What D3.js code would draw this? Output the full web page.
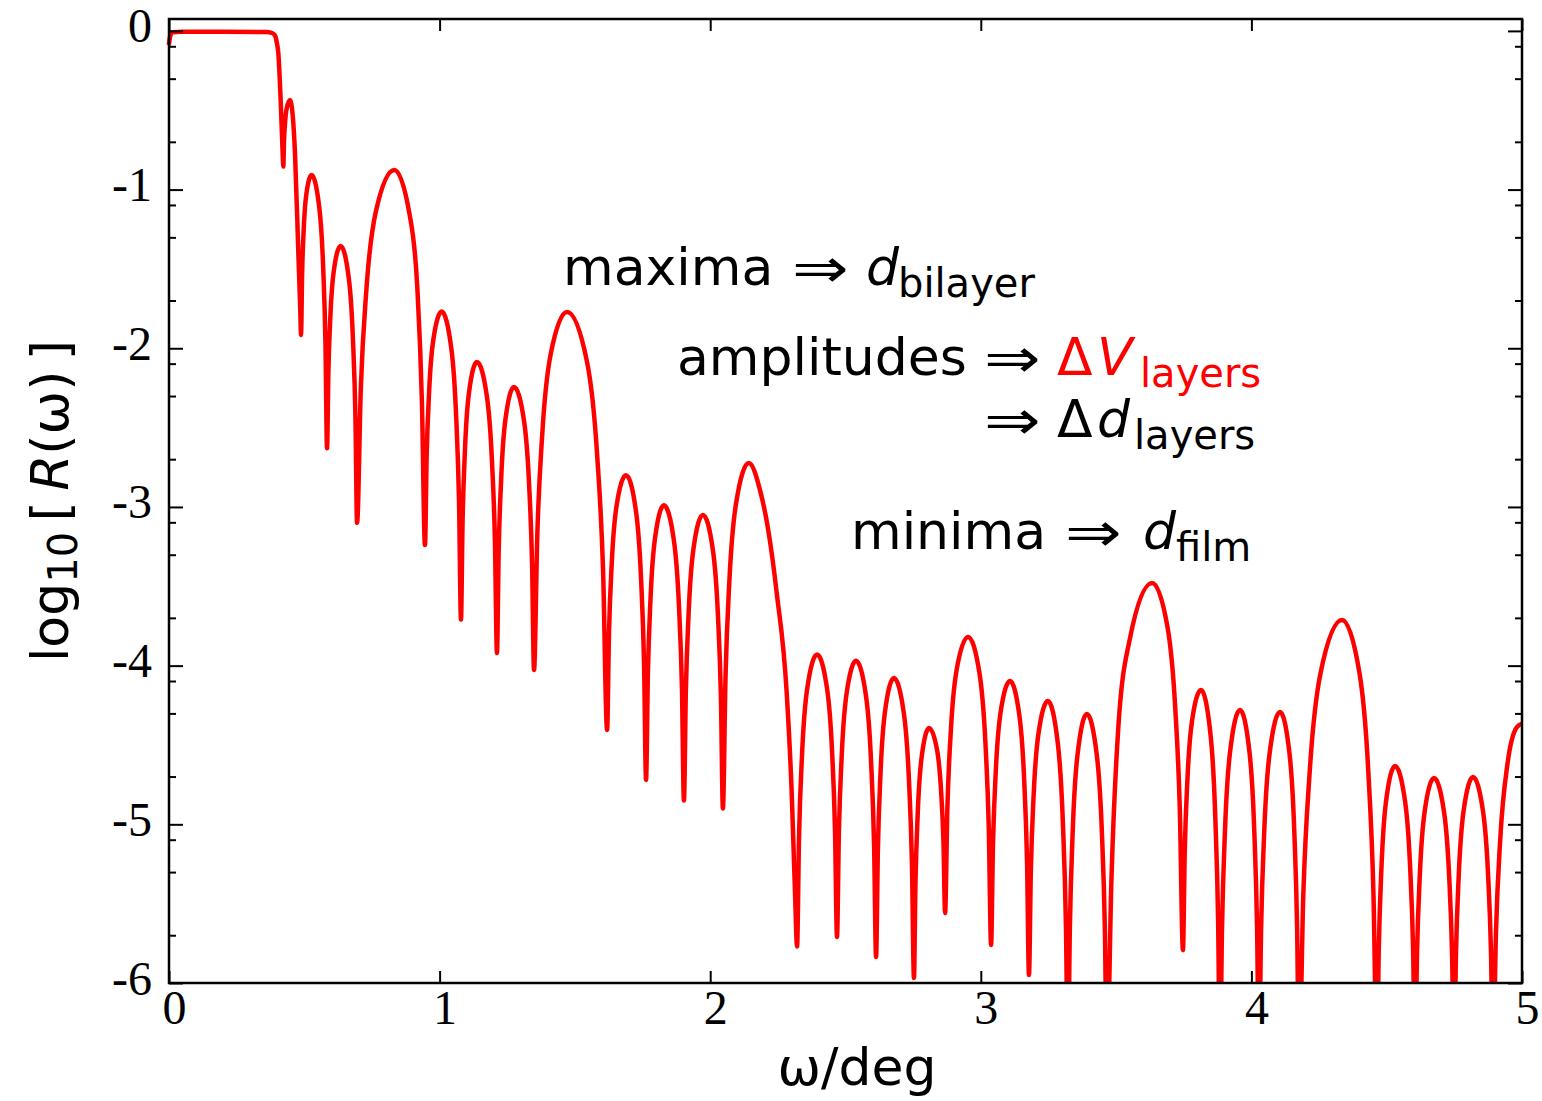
<!DOCTYPE html>
<html><head><meta charset="utf-8">
<script src="https://cdn.jsdelivr.net/npm/d3@7"></script>
<style>body{margin:0;background:#fff}</style>
</head><body>
<svg id="c" width="1542" height="1101"></svg>
<script>
// ---- data ----
const omega = [
0,0.005,0.012,0.05,0.2,0.36,0.38,0.392,0.398,0.404,0.413,0.420,0.4225,
0.425,0.4286,0.4348,0.447,0.458,0.4656,0.478,0.485,0.488,
0.4919,0.4978,0.5075,0.527,0.5555,0.5698,0.5783,0.584,
0.5891,0.5966,0.6093,0.6345,0.6648,0.6799,0.6890,0.695,
0.7088,0.7294,0.7639,0.8327,0.8894,0.9177,0.9347,0.946,
0.9522,0.9614,0.9769,1.0077,1.0434,1.0612,1.0719,1.079,
1.0849,1.0938,1.1085,1.138,1.175,1.1935,1.2046,1.212,
1.2183,1.2278,1.2435,1.275,1.312,1.3305,1.3416,1.349,
1.3612,1.3795,1.410,1.471,1.545,1.582,1.6042,1.619,
1.626,1.6365,1.654,1.689,1.726,1.7445,1.7556,1.763,
1.7696,1.7795,1.796,1.829,1.866,1.8845,1.8956,1.903,
1.910,1.9205,1.938,1.973,2.010,2.0285,2.0396,2.047,
2.0566,2.071,2.095,2.143,2.185,2.215,2.2457,2.2827,2.3012,2.3134,2.321,
2.3284,2.3395,2.358,2.395,2.4318,2.4502,2.4612,2.4686,
2.4756,2.4862,2.5038,2.539,2.576,2.5945,2.6056,2.613,
2.6196,2.6295,2.646,2.679,2.716,2.7345,2.7456,2.753,
2.7586,2.767,2.781,2.809,2.8385,2.8532,2.8621,2.868,
2.8765,2.8893,2.9105,2.953,2.9955,3.0168,3.0295,3.038,
3.045,3.0555,3.073,3.108,3.143,3.1605,3.171,3.178,
3.185,3.1955,3.213,3.248,3.285,3.3035,3.3146,3.322,
3.329,3.3395,3.357,3.392,3.429,3.4475,3.4586,3.466,
3.4827,3.5078,3.5495,3.633,3.690,3.7185,3.7356,3.747,
3.7537,3.7638,3.7805,3.814,3.849,3.8665,3.877,3.884,
3.8914,3.9025,3.921,3.958,3.993,4.0105,4.021,4.028,
4.0358,4.0475,4.067,4.106,4.141,4.1585,4.169,4.176,
4.1919,4.2158,4.2555,4.335,4.3995,4.4318,4.4511,4.464,
4.4707,4.4808,4.4975,4.531,4.568,4.5865,4.5976,4.605,
4.612,4.6225,4.640,4.675,4.712,4.7305,4.7416,4.749,
4.756,4.7665,4.784,4.819,4.856,4.8745,4.8856,4.893,
4.9037,4.9198,4.9465,4.980,5.0
];
const logR = [
-0.08,-0.03,-0.008,-0.006,-0.006,-0.007,-0.012,-0.03,-0.07,-0.14,-0.45,-0.77,-0.855,
-0.695,-0.586,-0.49,-0.435,-0.55,-0.77,-1.40,-1.75,-1.916,
-1.533,-1.251,-1.029,-0.908,-1.115,-1.493,-1.976,-2.63,
-2.146,-1.789,-1.508,-1.355,-1.564,-1.948,-2.437,-3.10,
-2.255,-1.632,-1.143,-0.876,-1.160,-1.62,-2.342,-3.24,
-2.681,-2.269,-1.946,-1.769,-2.002,-2.429,-2.972,-3.71,
-3.093,-2.638,-2.281,-2.086,-2.306,-2.710,-3.223,-3.92,
-3.283,-2.814,-2.445,-2.244,-2.458,-2.850,-3.349,-4.027,
-3.170,-2.538,-2.042,-1.771,-2.087,-2.667,-3.404,-4.405,
-3.795,-3.346,-2.993,-2.80,-3.030,-3.453,-3.990,-4.72,
-4.063,-3.578,-3.198,-2.99,-3.213,-3.622,-4.143,-4.85,
-4.166,-3.662,-3.266,-3.05,-3.272,-3.679,-4.197,-4.90,
-4.073,-3.463,-2.984,-2.723,-2.90,-3.15,-3.54,-4.17,-4.80,-5.43,-5.77,
-5.071,-4.556,-4.151,-3.93,-4.144,-4.535,-5.034,-5.71,
-5.049,-4.562,-4.179,-3.97,-4.194,-4.604,-5.127,-5.836,
-5.168,-4.676,-4.289,-4.078,-4.305,-4.721,-5.250,-5.968,
-5.369,-4.928,-4.582,-4.393,-4.533,-4.789,-5.116,-5.559,
-4.898,-4.411,-4.028,-3.819,-4.052,-4.479,-5.022,-5.76,
-5.128,-4.662,-4.297,-4.097,-4.319,-4.727,-5.245,-5.949,
-5.293,-4.810,-4.430,-4.223,-4.496,-4.997,-5.635,-6.5,
-5.666,-5.051,-4.568,-4.305,-4.568,-5.051,-5.666,-6.5,
-5.352,-4.40,-3.842,-3.479,-3.757,-4.265,-4.913,-5.792,
-5.169,-4.710,-4.350,-4.153,-4.435,-4.951,-5.608,-6.5,
-5.656,-5.034,-4.546,-4.279,-4.546,-5.034,-5.656,-6.5,
-5.661,-5.043,-4.557,-4.292,-4.557,-5.043,-5.661,-6.5,
-5.441,-4.660,-4.047,-3.712,-4.047,-4.660,-5.441,-6.5,
-5.790,-5.267,-4.856,-4.632,-4.856,-5.267,-5.790,-6.5,
-5.819,-5.317,-4.923,-4.708,-4.923,-5.317,-5.819,-6.5,
-5.817,-5.313,-4.918,-4.702,-4.918,-5.313,-5.817,-6.5,
-5.687,-5.088,-4.617,-4.39,-4.365
];
const xTicks = [0, 1, 2, 3, 4, 5];
const xTickLabels = ["0", "1", "2", "3", "4", "5"];
const yTicks = [0, -1, -2, -3, -4, -5, -6];
const yTickLabels = ["0", "-1", "-2", "-3", "-4", "-5", "-6"];
const minorMantissas = [2, 5, 8];
const xDomain = [0, 5];
const yDomain = [-6, 0.075];

// ---- layout ----
const L = 169, R = 1522, T = 19, B = 983;
const svg = d3.select("#c");
const x = d3.scaleLinear().domain(xDomain).range([L, R]);
const y = d3.scaleLinear().domain(yDomain).range([B, T]);

svg.append("defs").append("clipPath").attr("id", "clip")
  .append("rect").attr("x", L - 4).attr("y", T).attr("width", R - L + 4).attr("height", B - T);

const pts = omega.map((w, i) => [w, logR[i]]);
const line = d3.line().x(d => x(d[0])).y(d => y(d[1])).curve(d3.curveMonotoneX);
svg.append("path").datum(pts).attr("clip-path", "url(#clip)")
  .attr("d", line).attr("fill", "none").attr("stroke", "#ff0000")
  .attr("stroke-width", 4.5).attr("stroke-linejoin", "round").attr("stroke-linecap", "round");

// minor y ticks (log mantissas within each decade)
const yMinor = [];
for (let k = -6; k < 0; k++) minorMantissas.forEach(m => yMinor.push(k + Math.log10(m)));

const tickFont = "'Liberation Serif','Times New Roman',serif";
function styleAxis(g) {
  g.select(".domain").remove();
  g.selectAll(".tick line").attr("stroke", "#000").attr("stroke-width", 2);
}
// bottom
const gx = svg.append("g").attr("transform", `translate(0,${B})`)
  .call(d3.axisBottom(x).tickValues(xTicks).tickSize(-12).tickFormat((d, i) => xTickLabels[i]));
styleAxis(gx);
gx.selectAll("text").attr("y", 41).attr("dy", 0).attr("dx", 5)
  .attr("font-family", tickFont).attr("font-size", 48).attr("fill", "#000");
// top
const gxt = svg.append("g").attr("transform", `translate(0,${T})`)
  .call(d3.axisTop(x).tickValues(xTicks).tickSize(-12).tickFormat(""));
styleAxis(gxt);
// left
const gy = svg.append("g").attr("transform", `translate(${L},0)`)
  .call(d3.axisLeft(y).tickValues(yTicks).tickSize(-14).tickPadding(17).tickFormat((d, i) => yTickLabels[i]));
styleAxis(gy);
gy.selectAll("text").attr("dy", 11)
  .attr("font-family", tickFont).attr("font-size", 48).attr("fill", "#000");
const gym = svg.append("g").attr("transform", `translate(${L},0)`)
  .call(d3.axisLeft(y).tickValues(yMinor).tickSize(-7).tickFormat(""));
styleAxis(gym);
// right
const gyr = svg.append("g").attr("transform", `translate(${R},0)`)
  .call(d3.axisRight(y).tickValues(yTicks).tickSize(-14).tickFormat(""));
styleAxis(gyr);
const gyrm = svg.append("g").attr("transform", `translate(${R},0)`)
  .call(d3.axisRight(y).tickValues(yMinor).tickSize(-7).tickFormat(""));
styleAxis(gyrm);

// frame
svg.append("rect").attr("x", L).attr("y", T).attr("width", R - L).attr("height", B - T)
  .attr("fill", "none").attr("stroke", "#000").attr("stroke-width", 2.5);

// ---- texts ----
const sans = "'DejaVu Sans',sans-serif";
const FS = 52, SUB = 40;

// axis titles
svg.append("text").attr("x", 857).attr("y", 1085).attr("text-anchor", "middle")
  .attr("font-family", sans).attr("font-size", FS).attr("fill", "#000").text("ω/deg");

const yl = svg.append("text").attr("transform", "translate(68,501) rotate(-90)")
  .attr("text-anchor", "middle").attr("font-family", sans).attr("font-size", FS).attr("fill", "#000");
yl.append("tspan").text("log");
yl.append("tspan").attr("font-size", SUB).attr("dy", 9).text("10");
yl.append("tspan").attr("dy", -9).text("\u2009[\u2009");
yl.append("tspan").attr("font-style", "italic").text("R");
yl.append("tspan").text("(ω)\u2009]");

function arrow(x0, y0) {
  svg.append("text").attr("transform", `translate(${x0},${y0}) scale(1.3,1.05)`)
    .attr("font-family", sans).attr("font-size", FS).attr("fill", "#000").text("⇒");
}
function annot(parts) {
  const t = svg.append("text").attr("font-family", sans).attr("font-size", FS);
  parts.forEach(p => {
    const s = t.append("tspan").attr("x", p.x).attr("y", p.y).text(p.t)
      .attr("fill", p.c || "#000");
    if (p.i) s.attr("font-style", "italic");
    if (p.s) s.attr("font-size", SUB);
  });
}
annot([
  {t: "maxima", x: 563, y: 285},
  {t: "d", x: 866, y: 285, i: true},
  {t: "bilayer", x: 898, y: 297, s: true}
]);
arrow(792, 287);
annot([
  {t: "amplitudes", x: 677, y: 375},
  {t: "Δ", x: 1057, y: 375, c: "#ff0000"},
  {t: "V", x: 1097, y: 375, i: true, c: "#ff0000"},
  {t: "layers", x: 1140, y: 387, s: true, c: "#ff0000"}
]);
arrow(984, 377);
annot([
  {t: "Δ", x: 1057, y: 437},
  {t: "d", x: 1097, y: 437, i: true},
  {t: "layers", x: 1134, y: 449, s: true}
]);
arrow(984, 439);
annot([
  {t: "minima", x: 851, y: 549},
  {t: "d", x: 1143, y: 549, i: true},
  {t: "film", x: 1176, y: 561, s: true}
]);
arrow(1065, 551);
</script>
</body></html>
